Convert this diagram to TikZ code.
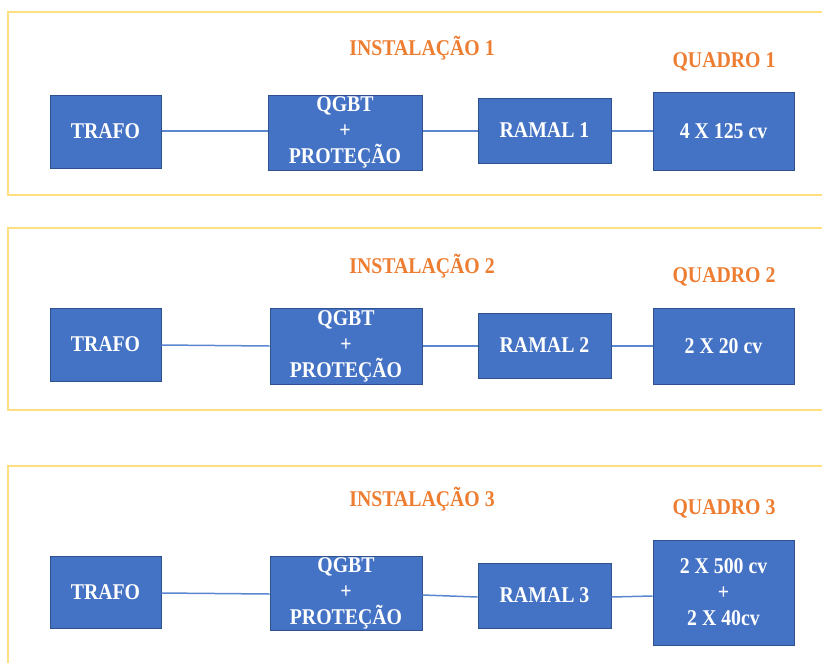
\documentclass[tikz,border=0pt]{standalone}
\usepackage{fontspec}
\setmainfont{Liberation Serif}[FakeStretch=0.88]
\definecolor{boxblue}{HTML}{4472C4}
\definecolor{boxedge}{HTML}{2F528F}
\definecolor{lineblue}{HTML}{5B87D0}
\definecolor{orangetxt}{HTML}{ED7D31}
\definecolor{framegold}{HTML}{FFDF80}
\tikzset{
  blk/.style={draw=boxedge, line width=1pt, fill=boxblue, text=white, font=\bfseries\fontsize{22.5}{26}\selectfont, align=center, inner sep=0pt},
  ttl/.style={text=orangetxt, font=\bfseries\fontsize{22.5}{26}\selectfont, inner sep=0pt},
  frm/.style={draw=framegold, line width=1.6pt},
  wire/.style={draw=lineblue, line width=1.5pt}
}
\begin{document}
\begin{tikzpicture}[x=1pt,y=-1pt]
\useasboundingbox (0,0) rectangle (822,662);
\clip (0,0) rectangle (822,662);
\fill[white] (0,0) rectangle (822,662);
% frames
\draw[frm] (830,12) -- (8,12) -- (8,195) -- (830,195);
\draw[frm] (830,228) -- (8,228) -- (8,410) -- (830,410);
\draw[frm] (830,466) -- (8,466) -- (8,670);
% row 1
\node[ttl] (i1) at (422,48) {INSTALAÇÃO 1};
\node[ttl] (q1) at (724,62) {QUADRO 1};
\node[blk, minimum width=111, minimum height=73] (t1) at (105.5,131.5) {TRAFO};
\node[blk, minimum width=154, minimum height=75] (g1) at (345,132.5) {QGBT\\+\\PROTEÇÃO};
\node[blk, minimum width=133, minimum height=65] (r1) at (544.5,130.5) {RAMAL 1};
\node[blk, minimum width=141, minimum height=78] (c1) at (723.5,131) {4 X 125 cv};
\draw[wire] (t1.east |- 0,131) -- (g1.west |- 0,131);
\draw[wire] (g1.east |- 0,131) -- (r1.west |- 0,131);
\draw[wire] (r1.east |- 0,131) -- (c1.west |- 0,131);
% row 2
\node[ttl] (i2) at (422,266) {INSTALAÇÃO 2};
\node[ttl] (q2) at (724,277) {QUADRO 2};
\node[blk, minimum width=111, minimum height=73] (t2) at (105.5,344.5) {TRAFO};
\node[blk, minimum width=152, minimum height=76] (g2) at (346,346) {QGBT\\+\\PROTEÇÃO};
\node[blk, minimum width=133, minimum height=65] (r2) at (544.5,345.5) {RAMAL 2};
\node[blk, minimum width=141, minimum height=76] (c2) at (723.5,346) {2 X 20 cv};
\draw[wire] (t2.east |- 0,345) -- (g2.west |- 0,346);
\draw[wire] (g2.east |- 0,346) -- (r2.west |- 0,346);
\draw[wire] (r2.east |- 0,346) -- (c2.west |- 0,346);
% row 3
\node[ttl] (i3) at (422,499) {INSTALAÇÃO 3};
\node[ttl] (q3) at (724,509) {QUADRO 3};
\node[blk, minimum width=111, minimum height=72] (t3) at (105.5,592) {TRAFO};
\node[blk, minimum width=152, minimum height=74] (g3) at (346,593) {QGBT\\+\\PROTEÇÃO};
\node[blk, minimum width=133, minimum height=65] (r3) at (544.5,595.5) {RAMAL 3};
\node[blk, minimum width=141, minimum height=105] (c3) at (723.5,592.5) {2 X 500 cv\\+\\2 X 40cv};
\draw[wire] (t3.east |- 0,593) -- (g3.west |- 0,594);
\draw[wire] (g3.east |- 0,595) -- (r3.west |- 0,597);
\draw[wire] (r3.east |- 0,597) -- (c3.west |- 0,596);
\end{tikzpicture}
\end{document}
